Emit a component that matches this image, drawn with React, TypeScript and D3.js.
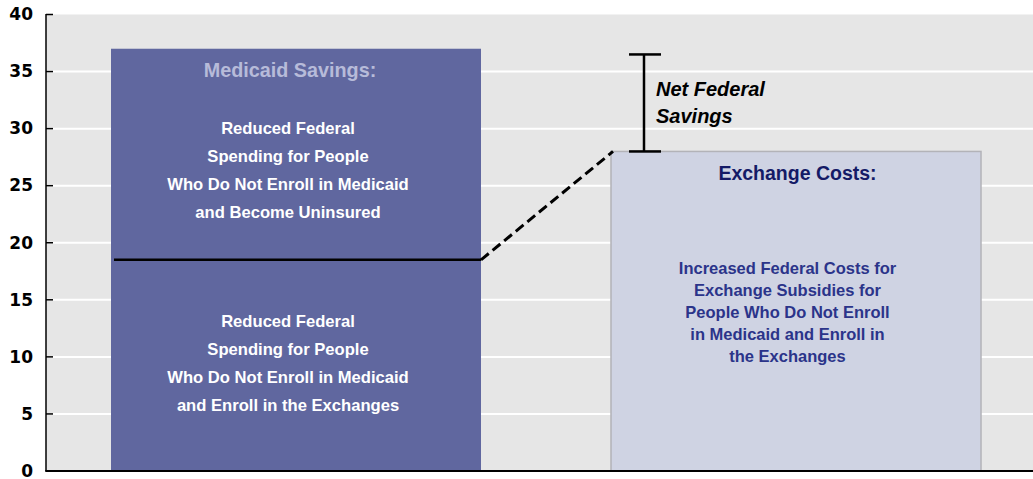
import React from "react";
import * as d3 from "d3";

const categories = ["Medicaid Savings", "Exchange Costs"];
const barValues = [37, 28];
const dividerValue = 18.5;
const netSavingsTop = 36.5;
const yTicks = [0, 5, 10, 15, 20, 25, 30, 35, 40];

const leftTitle = "Medicaid Savings:";
const leftUpperLines = [
  "Reduced Federal",
  "Spending for People",
  "Who Do Not Enroll in Medicaid",
  "and Become Uninsured",
];
const leftLowerLines = [
  "Reduced Federal",
  "Spending for People",
  "Who Do Not Enroll in Medicaid",
  "and Enroll in the Exchanges",
];
const rightTitle = "Exchange Costs:";
const rightLines = [
  "Increased Federal Costs for",
  "Exchange Subsidies for",
  "People Who Do Not Enroll",
  "in Medicaid and Enroll in",
  "the Exchanges",
];
const netLabel = ["Net Federal", "Savings"];

const W = 1033;
const H = 479;
const axisX = 46;
const plotRight = 1033;

export default function App() {
  const y = d3.scaleLinear().domain([0, 40]).range([471, 14.5]);
  const x = d3
    .scaleBand<string>()
    .domain(categories)
    .range([axisX, 1046])
    .paddingInner(0.26)
    .paddingOuter(0.13);
  const bw = x.bandwidth();
  const x1 = x(categories[0])!;
  const x2 = x(categories[1])!;
  const c1 = x1 + bw / 2;
  const c2 = x2 + bw / 2;
  const top1 = y(barValues[0]);
  const top2 = y(barValues[1]);
  const yDiv = y(dividerValue);
  const bracketX = x2 + 33;
  const font = "'Liberation Sans', Arial, sans-serif";

  return (
    <svg
      width={W}
      height={H}
      style={{ position: "absolute", left: 0, top: 0 }}
    >
      <rect x={0} y={0} width={W} height={H} fill="#ffffff" />
      <rect
        x={axisX}
        y={y(40)}
        width={plotRight - axisX}
        height={y(0) - y(40)}
        fill="#e6e6e6"
      />
      {yTicks
        .filter((t) => t > 0 && t < 40)
        .map((t) => (
          <line
            key={"g" + t}
            x1={axisX}
            x2={plotRight}
            y1={y(t)}
            y2={y(t)}
            stroke="#ffffff"
            strokeWidth={2}
          />
        ))}
      {/* bars */}
      <rect x={x1} y={top1} width={bw} height={y(0) - top1} fill="#60679f" />
      <rect
        x={x2}
        y={top2}
        width={bw}
        height={y(0) - top2}
        fill="#cfd3e3"
        stroke="#b3b3b8"
        strokeWidth={1.5}
      />
      {/* divider */}
      <line
        x1={x1 + 3}
        x2={x1 + bw}
        y1={yDiv}
        y2={yDiv}
        stroke="#000"
        strokeWidth={2.5}
      />
      <line
        x1={x1 + bw}
        y1={yDiv}
        x2={x2 + 2}
        y2={top2}
        stroke="#000"
        strokeWidth={3}
        strokeDasharray="10,5"
      />
      {/* bracket */}
      <g stroke="#000" strokeWidth={2.5}>
        <line x1={bracketX} x2={bracketX} y1={y(netSavingsTop)} y2={top2} />
        <line
          x1={bracketX - 15}
          x2={bracketX + 17}
          y1={y(netSavingsTop)}
          y2={y(netSavingsTop)}
        />
        <line x1={bracketX - 15} x2={bracketX + 17} y1={top2} y2={top2} />
      </g>
      {netLabel.map((s, i) => (
        <text
          key={"n" + i}
          x={bracketX + 12}
          y={y(netSavingsTop) + 42 + i * 26.6}
          fontFamily={font}
          fontWeight="bold"
          fontStyle="italic"
          fontSize={20}
          fill="#000"
        >
          {s}
        </text>
      ))}
      {/* left bar texts */}
      <text
        x={c1 - 6}
        y={top1 + 28}
        textAnchor="middle"
        fontFamily={font}
        fontWeight="bold"
        fontSize={19.8}
        fill="#b7bbd9"
      >
        {leftTitle}
      </text>
      {leftUpperLines.map((s, i) => (
        <text
          key={"u" + i}
          x={c1 - 8}
          y={top1 + 85 + i * 28}
          textAnchor="middle"
          fontFamily={font}
          fontWeight="bold"
          fontSize={16.6}
          fill="#ffffff"
        >
          {s}
        </text>
      ))}
      {leftLowerLines.map((s, i) => (
        <text
          key={"l" + i}
          x={c1 - 8}
          y={yDiv + 67 + i * 28}
          textAnchor="middle"
          fontFamily={font}
          fontWeight="bold"
          fontSize={16.6}
          fill="#ffffff"
        >
          {s}
        </text>
      ))}
      {/* right bar texts */}
      <text
        x={c2 + 1.5}
        y={top2 + 29}
        textAnchor="middle"
        fontFamily={font}
        fontWeight="bold"
        fontSize={19.5}
        fill="#141a66"
      >
        {rightTitle}
      </text>
      {rightLines.map((s, i) => (
        <text
          key={"r" + i}
          x={c2 - 8.5}
          y={top2 + 122.5 + i * 22}
          textAnchor="middle"
          fontFamily={font}
          fontWeight="bold"
          fontSize={16.5}
          fill="#2b348a"
        >
          {s}
        </text>
      ))}
      {/* axes */}
      <line
        x1={axisX}
        x2={axisX}
        y1={y(40) - 0.5}
        y2={y(0)}
        stroke="#000"
        strokeWidth={1.5}
      />
      <line
        x1={axisX - 0.75}
        x2={plotRight}
        y1={y(0)}
        y2={y(0)}
        stroke="#000"
        strokeWidth={2}
      />
      {yTicks.map((t) => (
        <g key={"t" + t}>
          <line
            x1={axisX}
            x2={axisX + 7}
            y1={y(t)}
            y2={y(t)}
            stroke="#000"
            strokeWidth={1.5}
          />
          <text
            x={33}
            y={y(t)}
            dy="0.34em"
            textAnchor="end"
            fontFamily="'DejaVu Sans', sans-serif"
            fontWeight="bold"
            fontSize={17}
            fill="#000"
          >
            {t}
          </text>
        </g>
      ))}
    </svg>
  );
}
